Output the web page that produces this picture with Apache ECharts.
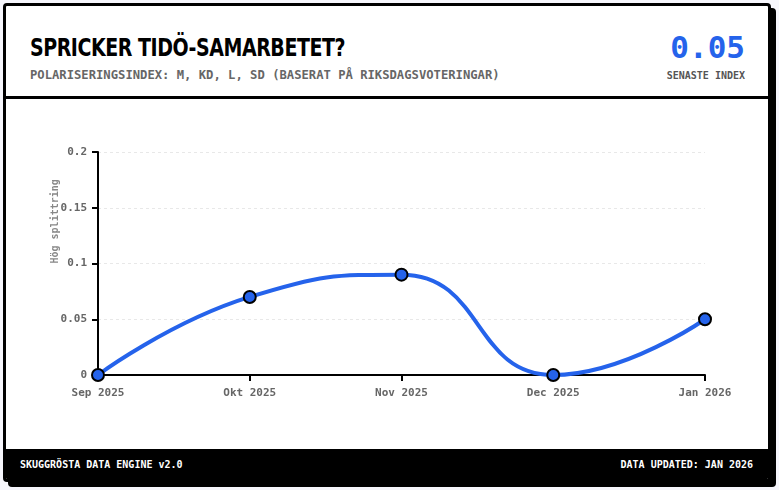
<!DOCTYPE html>
<html><head><meta charset="utf-8">
<script src="https://cdn.jsdelivr.net/npm/echarts@6/dist/echarts.min.js"></script>
<style>
html,body{margin:0;padding:0;width:779px;height:490px;background:#f6f6fc;overflow:hidden}
#card{position:absolute;left:3px;top:3px;width:768px;height:479px;box-sizing:border-box;border:3px solid #000;border-radius:4px;box-shadow:5px 5px 0 #000;background:#fff;overflow:hidden}
#header{position:absolute;left:0;top:0;width:762px;height:90px;border-bottom:3px solid #000;box-sizing:content-box}
#title{position:absolute;left:24px;top:27px;font-family:"DejaVu Sans",sans-serif;font-weight:bold;font-size:25px;letter-spacing:-0.6px;color:#000;white-space:nowrap;line-height:30px;transform:scaleX(0.76);transform-origin:0 50%}
#sub{position:absolute;left:24px;top:62px;font-family:"DejaVu Sans Mono",monospace;font-weight:bold;font-size:12.2px;color:#666;white-space:nowrap;line-height:14px}
#big{position:absolute;right:23px;top:23px;font-family:"DejaVu Sans Mono",monospace;font-weight:bold;font-size:31px;color:#2563eb;line-height:36px;text-align:right}
#bigsub{position:absolute;right:23px;top:64px;font-family:"DejaVu Sans Mono",monospace;font-weight:bold;font-size:10px;color:#555;line-height:12px}
#chart{position:absolute;left:0;top:93px;width:762px;height:350px}
#footer{position:absolute;left:0;top:443px;width:762px;height:33px;background:#000;color:#fff;font-family:"DejaVu Sans Mono",monospace;font-weight:bold;font-size:10px}
#fl{position:absolute;left:14px;top:10px}
#fr{position:absolute;right:15px;top:10px}
</style></head>
<body>
<div id="card">
  <div id="header">
    <div id="title">SPRICKER TIDÖ-SAMARBETET?</div>
    <div id="sub">POLARISERINGSINDEX: M, KD, L, SD (BASERAT PÅ RIKSDAGSVOTERINGAR)</div>
    <div id="big">0.05</div>
    <div id="bigsub">SENASTE INDEX</div>
  </div>
  <div id="chart"></div>
  <div id="footer"><div id="fl">SKUGGRÖSTA DATA ENGINE v2.0</div><div id="fr">DATA UPDATED: JAN 2026</div></div>
</div>
<script>
const months = ["Sep 2025", "Okt 2025", "Nov 2025", "Dec 2025", "Jan 2026"];
const polarization = [0, 0.07, 0.09, 0, 0.05];
const yTicks = [0, 0.05, 0.1, 0.15, 0.2];

const chart = echarts.init(document.getElementById('chart'));
const mono = '"DejaVu Sans Mono", monospace';
chart.setOption({
  animation: false,
  grid: {left: 92, right: 63, top: 53, bottom: 74},
  xAxis: {
    type: 'category',
    data: months,
    boundaryGap: false,
    axisLine: {lineStyle: {color: '#000', width: 2}},
    axisTick: {show: true, length: 6, lineStyle: {color: '#000', width: 2}},
    axisLabel: {color: '#666', fontFamily: mono, fontWeight: 'bold', fontSize: 11, margin: 13}
  },
  yAxis: {
    type: 'value',
    min: yTicks[0], max: yTicks[yTicks.length - 1], interval: 0.05,
    name: 'Hög splittring',
    nameLocation: 'middle',
    nameGap: 38,
    nameMoveOverlap: false,
    nameTextStyle: {color: '#888', fontFamily: mono, fontWeight: 'bold', fontSize: 10, align: 'left'},
    axisLine: {show: true, lineStyle: {color: '#000', width: 2}},
    axisTick: {show: true, length: 6, lineStyle: {color: '#000', width: 2}},
    axisLabel: {color: '#666', fontFamily: mono, fontWeight: 'bold', fontSize: 11, margin: 11,
      formatter: v => String(parseFloat(v.toFixed(2)))},
    splitLine: {show: true, lineStyle: {color: '#e8e8e8', type: [3, 3], width: 1}}
  },
  series: [{
    type: 'line',
    data: polarization,
    smooth: 0.5,
    symbol: 'circle',
    symbolSize: 12,
    lineStyle: {color: '#2563eb', width: 4},
    itemStyle: {color: '#2563eb', borderColor: '#000', borderWidth: 2}
  }]
});
</script>
</body></html>
